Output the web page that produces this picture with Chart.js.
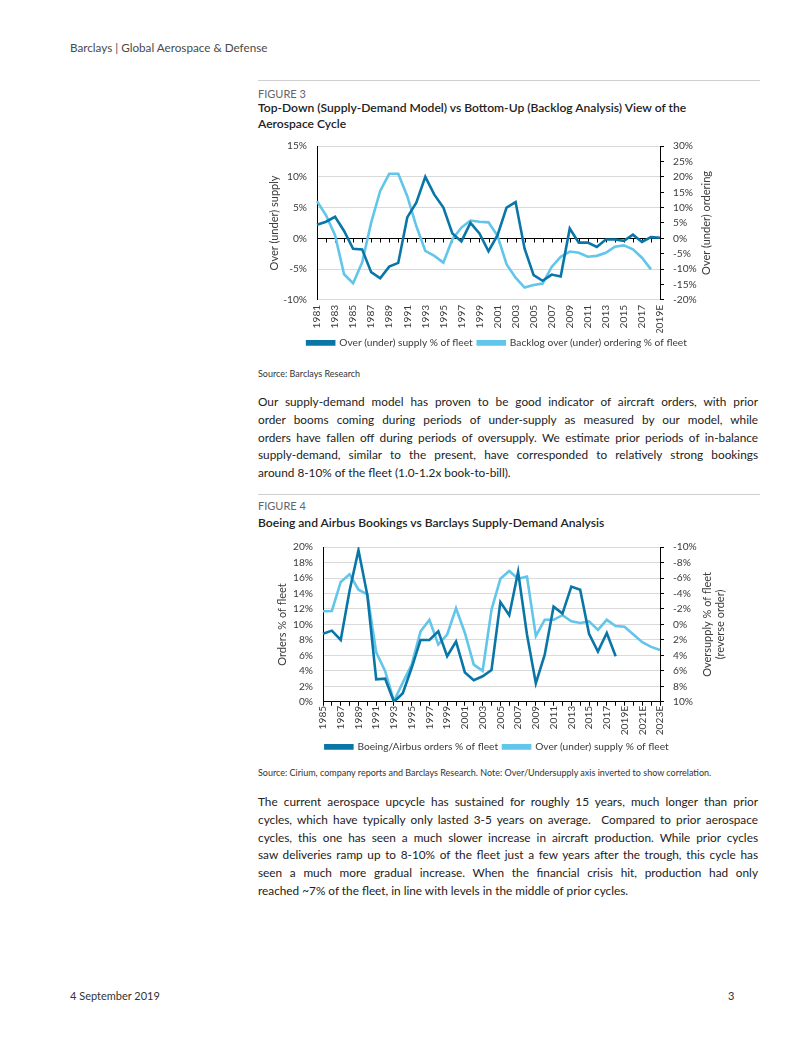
<!DOCTYPE html>
<html>
<head>
<meta charset="utf-8">
<script src="https://cdn.jsdelivr.net/npm/chart.js@4.4.1/dist/chart.umd.min.js"></script>
<style>
  body { margin: 0; width: 802px; height: 1037px; position: relative; background: #fff; font-family: Lato, sans-serif; color: #222; }
  .abs { position: absolute; white-space: nowrap; }
  .rule { position: absolute; left: 258px; width: 502px; height: 1px; background: #cfcfcf; }
  .fig { font-size: 11px; line-height: 14px; color: #666; }
  .ttl { font-size: 12.1px; line-height: 16px; font-weight: 600; color: #222; }
  .src { font-size: 9px; line-height: 12px; color: #333; }
  .para { position: absolute; left: 258px; width: 500px; font-size: 11.8px; line-height: 17.8px; color: #222; }
  .para div { text-align: justify; text-align-last: justify; white-space: nowrap; }
  .para div.last { text-align-last: left; }
  .box { position: absolute; left: 258px; width: 478px; }
</style>
</head>
<body>
<div class="abs" style="left:70px;top:39px;font-size:11.7px;line-height:16px;color:#4a4a4a;">Barclays | Global Aerospace &amp; Defense</div>

<div class="rule" style="top:80px;"></div>
<div class="abs fig" style="left:258px;top:87px;">FIGURE 3</div>
<div class="abs ttl" style="left:258px;top:100px;">Top-Down (Supply-Demand Model) vs Bottom-Up (Backlog Analysis) View of the<br>Aerospace Cycle</div>
<div class="box" style="top:130px;height:228px;"><canvas id="cycleChart"></canvas></div>
<div class="abs src" style="left:258px;top:368px;">Source: Barclays Research</div>

<div class="para" style="top:393px;">
  <div>Our supply-demand model has proven to be good indicator of aircraft orders, with prior</div>
  <div>order booms coming during periods of under-supply as measured by our model, while</div>
  <div>orders have fallen off during periods of oversupply. We estimate prior periods of in-balance</div>
  <div>supply-demand, similar to the present, have corresponded to relatively strong bookings</div>
  <div class="last">around 8-10% of the fleet (1.0-1.2x book-to-bill).</div>
</div>

<div class="rule" style="top:494px;"></div>
<div class="abs fig" style="left:258px;top:499px;">FIGURE 4</div>
<div class="abs ttl" style="left:258px;top:515px;">Boeing and Airbus Bookings vs Barclays Supply-Demand Analysis</div>
<div class="box" style="top:531px;height:231px;"><canvas id="bookingsChart"></canvas></div>
<div class="abs src" style="left:258px;top:767px;">Source: Cirium, company reports and Barclays Research. Note: Over/Undersupply axis inverted to show correlation.</div>

<div class="para" style="top:793px;">
  <div>The current aerospace upcycle has sustained for roughly 15 years, much longer than prior</div>
  <div>cycles, which have typically only lasted 3-5 years on average.&nbsp; Compared to prior aerospace</div>
  <div>cycles, this one has seen a much slower increase in aircraft production. While prior cycles</div>
  <div>saw deliveries ramp up to 8-10% of the fleet just a few years after the trough, this cycle has</div>
  <div>seen a much more gradual increase. When the financial crisis hit, production had only</div>
  <div class="last">reached ~7% of the fleet, in line with levels in the middle of prior cycles.</div>
</div>

<div class="abs" style="left:70px;top:989px;font-size:11px;line-height:14px;color:#333;">4 September 2019</div>
<div class="abs" style="left:728px;top:989px;font-size:11px;line-height:14px;color:#333;">3</div>

<script>
// Figure 3 data
const years1 = ['1981', '1982', '1983', '1984', '1985', '1986', '1987', '1988', '1989', '1990',
  '1991', '1992', '1993', '1994', '1995', '1996', '1997', '1998', '1999', '2000',
  '2001', '2002', '2003', '2004', '2005', '2006', '2007', '2008', '2009', '2010',
  '2011', '2012', '2013', '2014', '2015', '2016', '2017', '2018', '2019E'];
const supply1 = [2.2, 2.7, 3.5, 1.2, -1.7, -1.8, -5.5, -6.5, -4.6, -4.0,
  3.4, 5.8, 10.0, 7.1, 5.0, 0.8, -0.5, 2.5, 0.8, -2.1,
  0.5, 5.0, 5.9, -1.7, -6.0, -6.9, -5.9, -6.2, 1.6, -0.7,
  -0.7, -1.4, -0.2, -0.2, -0.4, 0.6, -0.6, 0.2, 0.1];
const backlog1 = [12.1, 7.5, 1.0, -11.7, -14.6, -7.9, 5.1, 15.4, 21.0, 21.0,
  13.7, 4.0, -4.1, -5.7, -7.9, -0.3, 3.5, 5.8, 5.4, 5.2,
  0.8, -8.4, -12.8, -16.0, -15.2, -14.7, -9.3, -6.0, -4.3, -4.7,
  -6.0, -5.7, -4.7, -2.7, -2.3, -3.6, -6.3, -10.1, null];

// Figure 4 data
const years2 = ['1985', '1986', '1987', '1988', '1989', '1990', '1991', '1992', '1993', '1994',
  '1995', '1996', '1997', '1998', '1999', '2000', '2001', '2002', '2003', '2004',
  '2005', '2006', '2007', '2008', '2009', '2010', '2011', '2012', '2013', '2014',
  '2015', '2016', '2017', '2018', '2019E', '2020E', '2021E', '2022E', '2023E'];
const orders2 = [8.8, 9.2, 8.0, 14.4, 19.6, 13.8, 2.9, 3.0, 0.0, 1.1,
  4.4, 8.0, 8.0, 9.1, 5.9, 7.8, 3.8, 2.8, 3.3, 4.1,
  12.9, 11.2, 16.8, 8.7, 2.4, 6.1, 12.3, 11.4, 14.9, 14.5,
  8.8, 6.5, 8.9, 5.9, null, null, null, null, null];
const oversupply2 = [-1.7, -1.75, -5.5, -6.5, -4.5, -3.9, 3.6, 6.0, 9.9, 7.5,
  5.2, 0.9, -0.6, 2.6, 1.3, -2.1, 1.1, 5.2, 6.0, -1.9,
  -5.9, -6.9, -5.9, -6.2, 1.5, -0.6, -0.6, -1.2, -0.4, -0.2,
  -0.4, 0.7, -0.6, 0.2, 0.3, 1.3, 2.3, 2.9, 3.3];

const DARK = '#0a76a8';
const LIGHT = '#62c5ea';
const FONT = { family: 'Lato, sans-serif', size: 10.2 };
const TXT = '#3a3a3a';
const pct = v => v + '%';

// draws the zero axis (fig 3) and the right-hand titles, which read upwards
const overlay = {
  id: 'overlay',
  beforeDatasetsDraw(chart, args, opts) {
    if (!opts.zeroLine) return;
    const { ctx, chartArea, scales } = chart;
    const y0 = Math.round(scales.y.getPixelForValue(0)) + 0.5;
    ctx.save();
    ctx.strokeStyle = '#000';
    ctx.lineWidth = 1;
    ctx.beginPath();
    ctx.moveTo(chartArea.left, y0);
    ctx.lineTo(chartArea.right, y0);
    scales.x.ticks.forEach((t, i) => {
      const x = Math.round(scales.x.getPixelForTick(i)) + 0.5;
      ctx.moveTo(x, y0);
      ctx.lineTo(x, y0 + 4);
    });
    ctx.stroke();
    ctx.restore();
  },
  afterDraw(chart, args, opts) {
    const { ctx, chartArea } = chart;
    const s = chart.scales.y1;
    const cy = (chartArea.top + chartArea.bottom) / 2;
    ctx.save();
    ctx.fillStyle = TXT;
    ctx.font = '11px Lato, sans-serif';
    ctx.textAlign = 'center';
    ctx.textBaseline = 'middle';
    opts.rightTitle.forEach((line, k) => {
      ctx.save();
      ctx.translate(s.right - opts.offset + k * 13, cy);
      ctx.rotate(-Math.PI / 2);
      ctx.fillText(line, 0, 0);
      ctx.restore();
    });
    ctx.restore();
  }
};

function xAxis(labels, withBorder) {
  return {
    grid: { display: withBorder, drawOnChartArea: false, drawTicks: withBorder, tickLength: 4, color: '#000' },
    border: { display: withBorder, color: '#000' },
    ticks: {
      autoSkip: false, minRotation: 90, maxRotation: 90, padding: withBorder ? 0 : 5,
      font: FONT, color: TXT,
      callback: (v, i) => (i % 2 === 0 ? labels[i] : '')
    },
    afterFit: s => { s.height = withBorder ? 35 : 33; }
  };
}

function legendOpts() {
  return {
    position: 'bottom',
    labels: { boxWidth: 27, boxHeight: 3, padding: 5, font: FONT, color: TXT }
  };
}

function rightAxis(min, max, step, reverse) {
  return {
    position: 'right',
    reverse: reverse,
    min: min, max: max,
    ticks: { stepSize: step, autoSkip: false, callback: pct, padding: 9, font: FONT, color: TXT },
    grid: { drawOnChartArea: false, drawTicks: true, tickLength: 4, color: '#000' },
    border: { color: '#000' },
    afterFit: s => { s.width = 76; }
  };
}

new Chart(document.getElementById('cycleChart'), {
  type: 'line',
  data: {
    labels: years1,
    datasets: [{
      label: 'Over (under) supply % of fleet',
      data: supply1,
      borderColor: DARK, backgroundColor: DARK,
      borderWidth: 2.6, pointRadius: 0, yAxisID: 'y'
    }, {
      label: 'Backlog over (under) ordering % of fleet',
      data: backlog1,
      borderColor: LIGHT, backgroundColor: LIGHT,
      borderWidth: 2.6, pointRadius: 0, yAxisID: 'y1'
    }]
  },
  options: {
    responsive: true,
    maintainAspectRatio: false,
    animation: false,
    scales: {
      x: xAxis(years1, false),
      y: {
        min: -10, max: 15,
        ticks: { stepSize: 5, autoSkip: false, callback: pct, padding: 10, font: FONT, color: TXT },
        grid: { color: '#dadada', drawTicks: false },
        border: { color: '#000' },
        title: { display: true, text: 'Over (under) supply', font: { family: 'Lato, sans-serif', size: 11 }, color: TXT, padding: { top: 10, bottom: 0 } },
        afterFit: s => { s.width = 59; }
      },
      y1: rightAxis(-20, 30, 5, false)
    },
    plugins: {
      legend: legendOpts(),
      tooltip: { enabled: false },
      overlay: { zeroLine: true, rightTitle: ['Over (under) ordering'], offset: 30 }
    }
  },
  plugins: [overlay]
});

new Chart(document.getElementById('bookingsChart'), {
  type: 'line',
  data: {
    labels: years2,
    datasets: [{
      label: 'Boeing/Airbus orders % of fleet',
      data: orders2,
      borderColor: DARK, backgroundColor: DARK,
      borderWidth: 2.6, pointRadius: 0, yAxisID: 'y'
    }, {
      label: 'Over (under) supply % of fleet',
      data: oversupply2,
      borderColor: LIGHT, backgroundColor: LIGHT,
      borderWidth: 2.6, pointRadius: 0, yAxisID: 'y1'
    }]
  },
  options: {
    responsive: true,
    maintainAspectRatio: false,
    animation: false,
    scales: {
      x: xAxis(years2, true),
      y: {
        min: 0, max: 20,
        ticks: { stepSize: 2, autoSkip: false, callback: pct, padding: 10, font: FONT, color: TXT },
        grid: { color: '#dadada', drawTicks: false },
        border: { color: '#000' },
        title: { display: true, text: 'Orders % of fleet', font: { family: 'Lato, sans-serif', size: 11 }, color: TXT, padding: { top: 18, bottom: 0 } },
        afterFit: s => { s.width = 65; }
      },
      y1: rightAxis(-10, 10, 2, true)
    },
    plugins: {
      legend: legendOpts(),
      tooltip: { enabled: false },
      overlay: { zeroLine: false, rightTitle: ['Oversupply % of fleet', '(reverse order)'], offset: 29 }
    }
  },
  plugins: [overlay]
});
</script>
</body>
</html>
